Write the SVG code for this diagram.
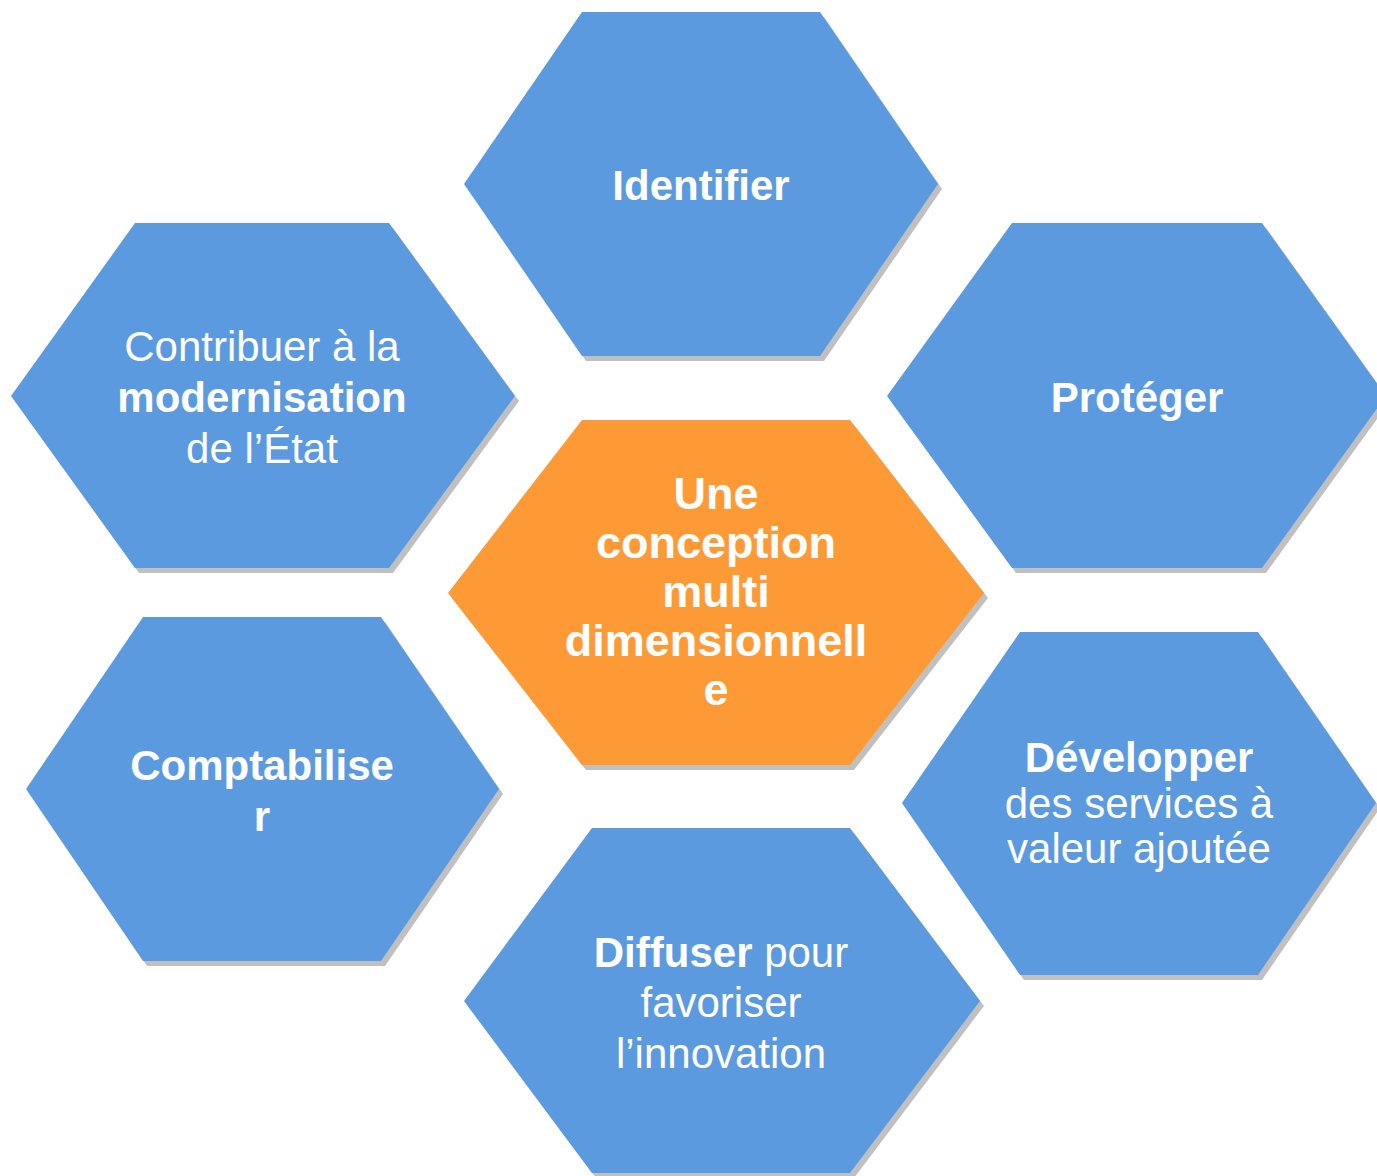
<svg xmlns="http://www.w3.org/2000/svg" width="1377" height="1176" viewBox="0 0 1377 1176">
<style>
.shadow{fill:#C0C0C0}
.hex{fill:#5B9ADF}
.hex.center{fill:#FE9A36}
text{font-family:"Liberation Sans",Arial,sans-serif;font-size:42px;fill:#FFFFFF;text-anchor:middle}
.b{font-weight:bold}
.big{font-size:45px}
</style>
<defs>
<filter id="soft" x="-5%" y="-5%" width="110%" height="110%"><feGaussianBlur stdDeviation="0.4"/></filter>
</defs>
<rect width="1377" height="1176" fill="#FFFFFF"/>
<g id="connectors"/>
<g id="node-identifier">
<polygon class="shadow" filter="url(#soft)" transform="translate(4,5)" points="464,184 582,12 820,12 938,184 820,356 582,356"/>
<polygon class="hex" points="464,184 582,12 820,12 938,184 820,356 582,356"/>
<text x="701" y="200" class="b">Identifier</text>
</g>
<g id="node-contribuer">
<polygon class="shadow" filter="url(#soft)" transform="translate(4,5)" points="11,396 135,223 389,223 515,396 389,568 135,568"/>
<polygon class="hex" points="11,396 135,223 389,223 515,396 389,568 135,568"/>
<text x="262" y="361">Contribuer à la</text>
<text x="262" y="411.5" class="b">modernisation</text>
<text x="262" y="462.5">de l’État</text>
</g>
<g id="node-proteger">
<polygon class="shadow" filter="url(#soft)" transform="translate(4,5)" points="887,396 1012,223 1262,223 1386,396 1262,568 1012,568"/>
<polygon class="hex" points="887,396 1012,223 1262,223 1386,396 1262,568 1012,568"/>
<text x="1137" y="412" class="b">Protéger</text>
</g>
<g id="node-center">
<polygon class="shadow" filter="url(#soft)" transform="translate(4,5)" points="448,593 582,420 850,420 984,593 850,765 582,765"/>
<polygon class="hex center" points="448,593 582,420 850,420 984,593 850,765 582,765"/>
<text x="716" y="509" class="b big">Une</text>
<text x="716" y="558" class="b big">conception</text>
<text x="716" y="607" class="b big">multi</text>
<text x="716" y="656" class="b big">dimensionnell</text>
<text x="716" y="705" class="b big">e</text>
</g>
<g id="node-comptabiliser">
<polygon class="shadow" filter="url(#soft)" transform="translate(4,5)" points="26,789 143,617 381,617 499,789 381,961 143,961"/>
<polygon class="hex" points="26,789 143,617 381,617 499,789 381,961 143,961"/>
<text x="262" y="780" class="b">Comptabilise</text>
<text x="262" y="830.5" class="b">r</text>
</g>
<g id="node-developper">
<polygon class="shadow" filter="url(#soft)" transform="translate(4,5)" points="902,803 1020,632 1258,632 1376,803 1258,975 1020,975"/>
<polygon class="hex" points="902,803 1020,632 1258,632 1376,803 1258,975 1020,975"/>
<text x="1139" y="772" class="b">Développer</text>
<text x="1139" y="817.5">des services à</text>
<text x="1139" y="863">valeur ajoutée</text>
</g>
<g id="node-diffuser">
<polygon class="shadow" filter="url(#soft)" transform="translate(4,5)" points="464,1001 592,828 850,828 980,1001 850,1173 592,1173"/>
<polygon class="hex" points="464,1001 592,828 850,828 980,1001 850,1173 592,1173"/>
<text x="721" y="966.5"><tspan class="b">Diffuser</tspan> pour</text>
<text x="721" y="1016.5">favoriser</text>
<text x="721" y="1067.5">l’innovation</text>
</g>
</svg>
